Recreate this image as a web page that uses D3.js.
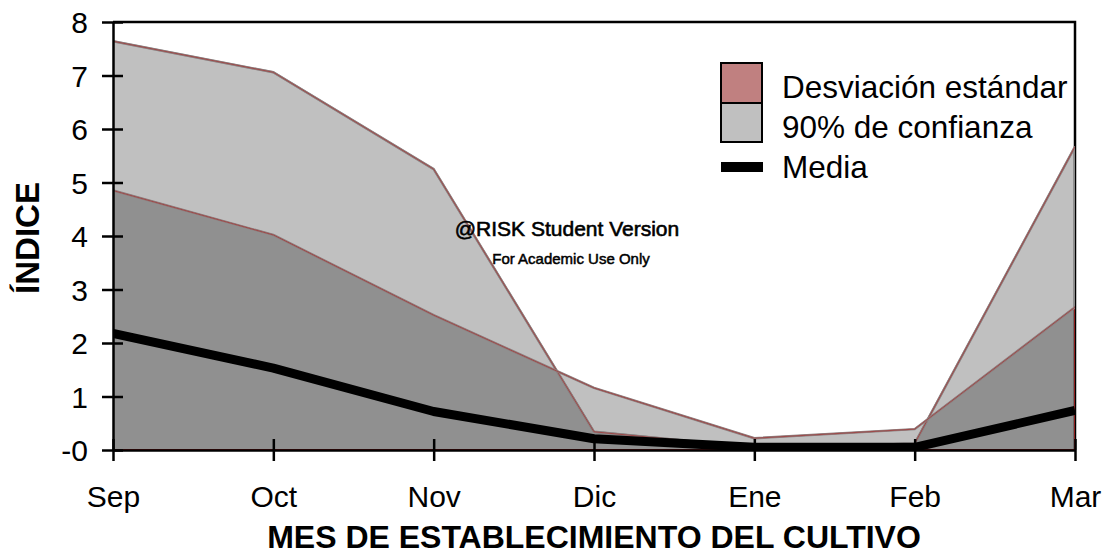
<!DOCTYPE html>
<html>
<head>
<meta charset="utf-8">
<script src="https://cdn.jsdelivr.net/npm/d3@7"></script>
<style>
  html, body { margin: 0; padding: 0; background: #fff; }
  svg { display: block; font-family: "Liberation Sans", Arial, sans-serif; }
</style>
</head>
<body>
<svg id="chart" width="1110" height="557"></svg>
<script>
// Monthly summary of the index: mean, ±1 standard deviation band and 90% band
const months = ["Sep", "Oct", "Nov", "Dic", "Ene", "Feb", "Mar"];
const meanValues = [2.18, 1.53, 0.72, 0.21, 0.05, 0.05, 0.74];
const sdUpper = [4.85, 4.02, 2.52, 1.16, 0.22, 0.39, 2.67];
const sdLower = [0, 0, 0, 0, 0, 0, 0];
const p95 = [7.64, 7.06, 5.25, 0.34, 0.05, 0.12, 5.67];
const p5 = [0, 0, 0, 0, 0, 0, 0];
const yTickValues = [0, 1, 2, 3, 4, 5, 6, 7, 8];
const yTickLabels = ["-0", "1", "2", "3", "4", "5", "6", "7", "8"];
const legendLabels = ["Desviación estándar", "90% de confianza", "Media"];

const svg = d3.select("#chart");
const plotL = 113, plotR = 1075, plotT = 22, plotB = 450;

const x = d3.scalePoint().domain(months).range([plotL, plotR]);
const y = d3.scaleLinear().domain([0, 8]).range([plotB, plotT]);

const rows = months.map((m, i) => ({
  m, mean: meanValues[i], sdHi: sdUpper[i], sdLo: sdLower[i], hi: p95[i], lo: p5[i]
}));

svg.append("defs").append("clipPath").attr("id", "plotClip")
  .append("rect").attr("x", plotL).attr("y", plotT)
  .attr("width", plotR - plotL).attr("height", plotB - plotT);

// frame: top and right border
svg.append("path")
  .attr("d", `M${plotL},${plotT}H${plotR}V${plotB}`)
  .attr("fill", "none").attr("stroke", "#000").attr("stroke-width", 2.5);

const plot = svg.append("g").attr("clip-path", "url(#plotClip)");

// bands drawn as translucent layers; where they overlap the grey deepens
const bandArea = (hiKey, loKey) => d3.area()
  .x(d => x(d.m)).y0(d => y(d[loKey])).y1(d => y(d[hiKey]));
const bandLine = key => d3.line().x(d => x(d.m)).y(d => y(d[key]));

plot.append("path").datum(rows)
  .attr("d", bandArea("hi", "lo"))
  .attr("fill", "#000").attr("fill-opacity", 0.247)
  .attr("stroke", "#8a8a8a").attr("stroke-width", 2);

plot.append("path").datum(rows)
  .attr("d", bandArea("sdHi", "sdLo"))
  .attr("fill", "#000").attr("fill-opacity", 0.247)
  .attr("stroke", "#a00000").attr("stroke-width", 1.4);

["hi", "sdHi"].forEach(k => {
  plot.append("path").datum(rows)
    .attr("d", bandLine(k))
    .attr("fill", "none").attr("stroke", "#8e8484").attr("stroke-width", 2.4)
    .attr("stroke-linejoin", "round");
  plot.append("path").datum(rows)
    .attr("d", bandLine(k))
    .attr("fill", "none").attr("stroke", "#a82020").attr("stroke-width", 0.6)
    .attr("stroke-linejoin", "round");
});

// mean line
plot.append("path").datum(rows)
  .attr("d", d3.line().x(d => x(d.m)).y(d => y(d.mean)))
  .attr("fill", "none").attr("stroke", "#000").attr("stroke-width", 9)
  .attr("stroke-linejoin", "round");

// y axis
const yAxis = d3.axisLeft(y).tickValues(yTickValues)
  .tickFormat((d, i) => yTickLabels[i]).tickSize(0).tickPadding(14);
const gy = svg.append("g").attr("transform", `translate(${plotL},0)`).call(yAxis);
gy.select(".domain").attr("stroke", "#000").attr("stroke-width", 2.5);
gy.selectAll(".tick line").remove();
gy.selectAll(".tick").append("line")
  .attr("x1", -11).attr("x2", 10).attr("stroke", "#000").attr("stroke-width", 2.5);
gy.selectAll(".tick text")
  .attr("font-size", 30).attr("font-family", "Liberation Sans, Arial, sans-serif")
  .attr("fill", "#000").attr("x", -25).attr("dy", "0.36em");

// x axis
const xAxis = d3.axisBottom(x).tickSize(0).tickPadding(0);
const gx = svg.append("g").attr("transform", `translate(0,${plotB})`).call(xAxis);
gx.select(".domain").attr("stroke", "#000").attr("stroke-width", 2.5);
gx.selectAll(".tick line").remove();
gx.selectAll(".tick").append("line")
  .attr("y1", -11).attr("y2", 11).attr("stroke", "#000").attr("stroke-width", 2.5);
gx.selectAll(".tick text")
  .attr("font-size", 30).attr("font-family", "Liberation Sans, Arial, sans-serif")
  .attr("fill", "#000").attr("y", 57).attr("dy", 0);

// axis titles
svg.append("text")
  .attr("x", (plotL + plotR) / 2).attr("y", 548)
  .attr("text-anchor", "middle").attr("font-size", 32).attr("font-weight", "bold")
  .text("MES DE ESTABLECIMIENTO DEL CULTIVO");

svg.append("text")
  .attr("transform", "translate(39,238) rotate(-90)")
  .attr("text-anchor", "middle").attr("font-size", 33).attr("font-weight", "bold")
  .text("ÍNDICE");

// watermark
svg.append("text")
  .attr("x", 567).attr("y", 236).attr("text-anchor", "middle")
  .attr("font-size", 21).attr("stroke", "#000").attr("stroke-width", 0.6)
  .text("@RISK Student Version");
svg.append("text")
  .attr("x", 571).attr("y", 264).attr("text-anchor", "middle")
  .attr("font-size", 15).attr("stroke", "#000").attr("stroke-width", 0.5)
  .text("For Academic Use Only");

// legend
const lg = svg.append("g");
lg.append("rect").attr("x", 721).attr("y", 63).attr("width", 41).attr("height", 40)
  .attr("fill", "#c08080").attr("stroke", "#000").attr("stroke-width", 2);
lg.append("rect").attr("x", 721).attr("y", 103).attr("width", 41).attr("height", 39)
  .attr("fill", "#c0c0c0").attr("stroke", "#000").attr("stroke-width", 2);
lg.append("rect").attr("x", 721).attr("y", 162).attr("width", 42).attr("height", 10)
  .attr("fill", "#000");
[98, 138, 178].forEach((by, i) => {
  lg.append("text").attr("x", 782).attr("y", by)
    .attr("font-size", 31.5).text(legendLabels[i]);
});
</script>
</body>
</html>
